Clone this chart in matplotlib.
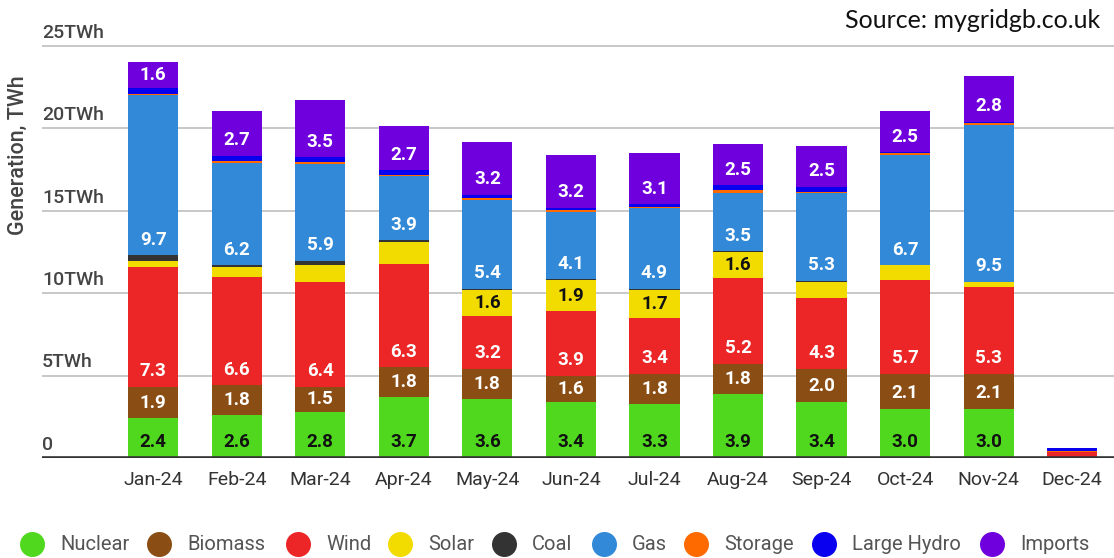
import matplotlib
matplotlib.use("Agg")
import matplotlib.pyplot as plt
import matplotlib.transforms as mtransforms
import numpy as np

plt.rcParams['font.family'] = ['Roboto', 'DejaVu Sans']

months = ['Jan-24', 'Feb-24', 'Mar-24', 'Apr-24', 'May-24', 'Jun-24',
          'Jul-24', 'Aug-24', 'Sep-24', 'Oct-24', 'Nov-24', 'Dec-24']

nuclear = [2.4, 2.6, 2.8, 3.7, 3.6, 3.4, 3.3, 3.9, 3.4, 3.0, 3.0, 0.0]
biomass = [1.9, 1.8, 1.5, 1.8, 1.8, 1.6, 1.8, 1.8, 2.0, 2.1, 2.1, 0.0]
wind = [7.3, 6.6, 6.4, 6.3, 3.2, 3.9, 3.4, 5.2, 4.3, 5.7, 5.3, 0.35]
solar = [0.35, 0.6, 1.0, 1.3, 1.6, 1.9, 1.7, 1.6, 1.0, 0.9, 0.3, 0.0]
coal = [0.35, 0.1, 0.25, 0.1, 0.05, 0.05, 0.05, 0.05, 0.05, 0.0, 0.0, 0.0]
gas = [9.7, 6.2, 5.9, 3.9, 5.4, 4.1, 4.9, 3.5, 5.3, 6.7, 9.5, 0.0]
storage = [0.1, 0.1, 0.1, 0.1, 0.1, 0.1, 0.1, 0.2, 0.1, 0.1, 0.1, 0.05]
large_hydro = [0.35, 0.35, 0.3, 0.25, 0.2, 0.15, 0.15, 0.3, 0.3, 0.05, 0.1, 0.2]
imports = [1.6, 2.7, 3.5, 2.7, 3.2, 3.2, 3.1, 2.5, 2.5, 2.5, 2.8, 0.03]

series = [
    ('Nuclear', nuclear, '#4fd81e', '#111111'),
    ('Biomass', biomass, '#8a4d14', 'white'),
    ('Wind', wind, '#ec2626', 'white'),
    ('Solar', solar, '#f2dc00', '#111111'),
    ('Coal', coal, '#333333', 'white'),
    ('Gas', gas, '#3189d8', 'white'),
    ('Storage', storage, '#ff6a00', 'white'),
    ('Large Hydro', large_hydro, '#0a00f0', 'white'),
    ('Imports', imports, '#6f00dd', 'white'),
]

y_ticks = [0, 5, 10, 15, 20, 25]
y_tick_labels = ['0', '5TWh', '10TWh', '15TWh', '20TWh', '25TWh']

W, H = 1114, 558
fig = plt.figure(figsize=(W / 100, H / 100), dpi=100)
fig.patch.set_facecolor('white')

px_per_twh = 16.48
y0_px = 458
top = 26
ax = fig.add_axes([42 / W, (H - y0_px) / H, (W - 42) / W, top * px_per_twh / H])
ax.set_xlim(-1.33, 11.5)
ax.set_ylim(0, top)
for s in ax.spines.values():
    s.set_visible(False)
ax.set_yticks([])
ax.set_xticks([])

# Gridlines and y labels sitting above each line
trans = mtransforms.blended_transform_factory(ax.transAxes, ax.transData)
for t, lab in zip(y_ticks, y_tick_labels):
    if t == 0:
        ax.axhline(0, color='#333333', lw=2.6, zorder=5)
    else:
        ax.axhline(t, color='#c8c8c8', lw=1.4, zorder=0)
    ax.annotate(lab, xy=(0, t), xycoords=trans, xytext=(0, 3),
                textcoords='offset points', ha='left', va='bottom',
                fontsize=14, color='#444444', fontweight='medium')

x = np.arange(len(months))
bottom = np.zeros(len(months))
for name, vals, color, tcolor in series:
    vals = np.array(vals)
    ax.bar(x, vals, width=0.6, bottom=bottom, color=color, linewidth=0, zorder=3)
    for xi, v, b in zip(x, vals, bottom):
        if v >= 1.5:
            ax.text(xi, b + min(v / 2, 0.95), f'{v:.1f}', ha='center', va='center',
                    fontsize=13.5, fontweight='bold', color=tcolor, zorder=6)
    bottom += vals

for xi, m in zip(x, months):
    ax.annotate(m, xy=(xi, 0), xycoords='data', xytext=(0, -16),
                textcoords='offset points', ha='center', va='center',
                fontsize=14, color='#333333', annotation_clip=False)

fig.text(18 / W, 1 - 155 / H, 'Generation, TWh', rotation=90, ha='center',
         va='center', fontsize=15.5, color='#444444', fontweight='medium')

fig.text(1100 / W, 1 - 20 / H, 'Source: mygridgb.co.uk', ha='right', va='center',
         fontsize=18, color='#111111', family=['Lato', 'DejaVu Sans'])

# Legend row along the bottom
legend_circle_x = [32, 159, 298, 400, 504, 604, 696, 824, 992]
ly = 1 - 544 / H
for (name, vals, color, tcolor), cx in zip(series, legend_circle_x):
    fig.lines.append(plt.Line2D([cx / W], [ly], marker='o', markersize=18,
                                color=color, markeredgewidth=0,
                                transform=fig.transFigure, figure=fig))
    fig.text((cx + 28) / W, ly, name, ha='left', va='center',
             fontsize=14.5, color='#555555')

fig.savefig('out.png', dpi=100, facecolor='white')
